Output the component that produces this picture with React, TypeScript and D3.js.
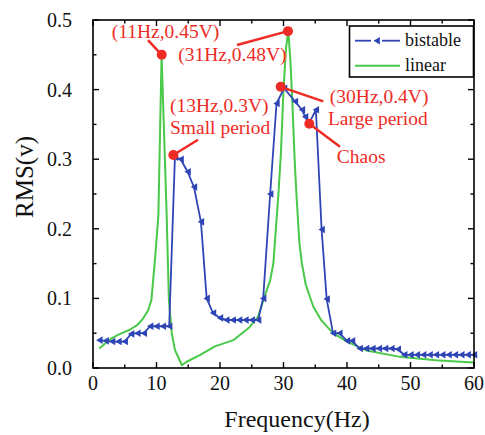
import React from "react";
import * as d3 from "d3";

// ---- data ----
const bistableFreq = [1, 2, 3, 4, 5, 6, 7, 8, 9, 10, 11, 12, 12.9, 13.8, 14.9, 15.9, 17.0, 17.9, 18.9, 20, 21, 22, 23, 24, 25, 26, 26.8, 27.9, 28.9, 30.1, 31.8, 32.9, 33.4, 34.0, 35.1, 36.0, 36.8, 37.8, 38.8, 40.0, 40.8, 42, 43, 44, 45, 46, 47, 48, 49, 50, 51, 52, 53, 54, 55, 56, 57, 58, 59, 60];
const bistableRms = [0.040, 0.039, 0.038, 0.038, 0.038, 0.049, 0.050, 0.050, 0.060, 0.060, 0.060, 0.060, 0.303, 0.300, 0.282, 0.260, 0.210, 0.100, 0.079, 0.072, 0.069, 0.069, 0.069, 0.069, 0.069, 0.069, 0.100, 0.250, 0.380, 0.402, 0.383, 0.371, 0.361, 0.351, 0.371, 0.199, 0.099, 0.050, 0.050, 0.039, 0.039, 0.028, 0.028, 0.028, 0.028, 0.028, 0.028, 0.027, 0.019, 0.019, 0.019, 0.019, 0.019, 0.019, 0.019, 0.019, 0.019, 0.019, 0.019, 0.019];

const linearFreq = [1, 2, 3, 4, 5, 5.8, 7, 7.8, 8.7, 9.2, 9.8, 10.3, 10.8, 11.6, 11.95, 12.4, 12.9, 14.0, 14.75, 16.9, 19.2, 22.1, 24.7, 26.0, 27.1, 27.9, 28.4, 28.8, 29.2, 29.6, 30.0, 30.4, 30.75, 31.1, 31.4, 31.8, 32.1, 32.5, 32.9, 33.5, 34.7, 36, 37.8, 40, 43.1, 48.3, 54, 59.9];
const linearRms = [0.028, 0.036, 0.043, 0.048, 0.052, 0.055, 0.062, 0.070, 0.083, 0.098, 0.160, 0.220, 0.450, 0.220, 0.098, 0.050, 0.026, 0.004, 0.009, 0.019, 0.031, 0.040, 0.059, 0.074, 0.105, 0.126, 0.150, 0.200, 0.250, 0.310, 0.400, 0.460, 0.485, 0.440, 0.380, 0.290, 0.240, 0.180, 0.150, 0.120, 0.088, 0.068, 0.050, 0.038, 0.025, 0.016, 0.011, 0.008];

const xTicks = [0, 10, 20, 30, 40, 50, 60];
const xMinorTicks = [5, 15, 25, 35, 45, 55];
const yTicks = [0, 0.1, 0.2, 0.3, 0.4, 0.5];
const yMinorTicks = [0.05, 0.15, 0.25, 0.35, 0.45];

// annotations: dot (f, v), leader end (f, v), text lines with anchor (f, v)
const annDotF = [10.82, 30.7, 12.65, 29.56, 34.06];
const annDotV = [0.45, 0.484, 0.306, 0.404, 0.351];
const annEndF = [8.66, 22.68, 16.54, 36.27, 38.9];
const annEndV = [0.471, 0.464, 0.328, 0.383, 0.318];
const annTexts = ["(11Hz,0.45V)", "(31Hz,0.48V)", "(13Hz,0.3V)", "Small period", "(30Hz,0.4V)", "Large period", "Chaos"];
const annTextF = [2.94, 13.43, 12.13, 12.13, 37.3, 37.0, 38.4];
const annTextV = [0.474, 0.441, 0.368, 0.336, 0.381, 0.349, 0.295];

const legendLabels = ["bistable", "linear"];

const BLUE = "#2f45b5";
const GREEN = "#48c948";
const RED = "#ee2b25";
const FONT = '"Liberation Serif", "DejaVu Serif", serif';
const ts = { fontFamily: FONT };

export default function App() {
  const W = 485, H = 435;
  const x = d3.scaleLinear().domain([0, 60]).range([93, 474]);
  const y = d3.scaleLinear().domain([0, 0.5]).range([368, 20]);
  const [x0, x1] = x.range();
  const [y0, y1] = y.range();

  const bist = bistableFreq.map((f, i) => [f, bistableRms[i]] as [number, number]);
  const lin = linearFreq.map((f, i) => [f, linearRms[i]] as [number, number]);
  const line = d3.line<[number, number]>().x(d => x(d[0])).y(d => y(d[1]));

  const tri = (cx: number, cy: number) => `M${cx - 3.2},${cy} L${cx + 3.2},${cy - 3.8} L${cx + 3.2},${cy + 3.8} Z`;

  const major = 6, minor = 3.5;

  return (
    <svg width={W} height={H} style={{ position: "absolute", left: 0, top: 0, background: "#fff" }}>
      <rect x={0} y={0} width={W} height={H} fill="#fff" />
      {/* data lines */}
      <path d={line(lin) || ""} fill="none" stroke={GREEN} strokeWidth={2} strokeLinejoin="round" />
      <path d={line(bist) || ""} fill="none" stroke={BLUE} strokeWidth={1.8} strokeLinejoin="round" />
      {bist.map((d, i) => (
        <path key={i} d={tri(x(d[0]), y(d[1]))} fill={BLUE} />
      ))}

      {/* frame */}
      <rect x={x0} y={y1} width={x1 - x0} height={y0 - y1} fill="none" stroke="#000" strokeWidth={1.6} />
      {xTicks.map(t => (
        <g key={"xt" + t}>
          <line x1={x(t)} x2={x(t)} y1={y0} y2={y0 - major} stroke="#000" strokeWidth={1.4} />
          <line x1={x(t)} x2={x(t)} y1={y1} y2={y1 + major} stroke="#000" strokeWidth={1.4} />
          <text x={x(t)} y={y0 + 22} textAnchor="middle" fontSize={20} fill="#111" style={ts}>{t}</text>
        </g>
      ))}
      {xMinorTicks.map(t => (
        <g key={"xm" + t}>
          <line x1={x(t)} x2={x(t)} y1={y0} y2={y0 - minor} stroke="#000" strokeWidth={1.4} />
          <line x1={x(t)} x2={x(t)} y1={y1} y2={y1 + minor} stroke="#000" strokeWidth={1.4} />
        </g>
      ))}
      {yTicks.map(t => (
        <g key={"yt" + t}>
          <line x1={x0} x2={x0 + major} y1={y(t)} y2={y(t)} stroke="#000" strokeWidth={1.4} />
          <line x1={x1} x2={x1 - major} y1={y(t)} y2={y(t)} stroke="#000" strokeWidth={1.4} />
          <text x={72} y={y(t) + 7} textAnchor="end" fontSize={20} fill="#111" style={ts}>{t.toFixed(1)}</text>
        </g>
      ))}
      {yMinorTicks.map(t => (
        <g key={"ym" + t}>
          <line x1={x0} x2={x0 + minor} y1={y(t)} y2={y(t)} stroke="#000" strokeWidth={1.4} />
          <line x1={x1} x2={x1 - minor} y1={y(t)} y2={y(t)} stroke="#000" strokeWidth={1.4} />
        </g>
      ))}

      {/* axis titles */}
      <text x={297} y={427} textAnchor="middle" fontSize={24} fill="#111" style={ts}>Frequency(Hz)</text>
      <text transform="translate(33,177) rotate(-90)" textAnchor="middle" fontSize={25} fill="#111" style={ts}>RMS(v)</text>

      {/* legend */}
      <rect x={349.5} y={26} width={124} height={51} fill="#fff" stroke="#000" strokeWidth={1.6} />
      <line x1={355} x2={371} y1={40.7} y2={40.7} stroke={BLUE} strokeWidth={1.8} />
      <line x1={382} x2={400} y1={40.7} y2={40.7} stroke={BLUE} strokeWidth={1.8} />
      <path d={tri(376.7, 40.7)} fill={BLUE} />
      <line x1={355} x2={400} y1={65.7} y2={65.7} stroke={GREEN} strokeWidth={2} />
      <text x={405} y={46} fontSize={18} fill="#111" style={ts}>{legendLabels[0]}</text>
      <text x={405} y={71} fontSize={18} fill="#111" style={ts}>{legendLabels[1]}</text>

      {/* annotations */}
      {annDotF.map((f, i) => (
        <g key={"a" + i}>
          <line x1={x(f)} y1={y(annDotV[i])} x2={x(annEndF[i])} y2={y(annEndV[i])} stroke={RED} strokeWidth={2.5} />
          <circle cx={x(f)} cy={y(annDotV[i])} r={5} fill={RED} />
        </g>
      ))}
      {annTexts.map((t, i) => (
        <text key={"t" + i} x={x(annTextF[i])} y={y(annTextV[i])} fontSize={19.5} fill={RED} style={ts}>{t}</text>
      ))}
    </svg>
  );
}
